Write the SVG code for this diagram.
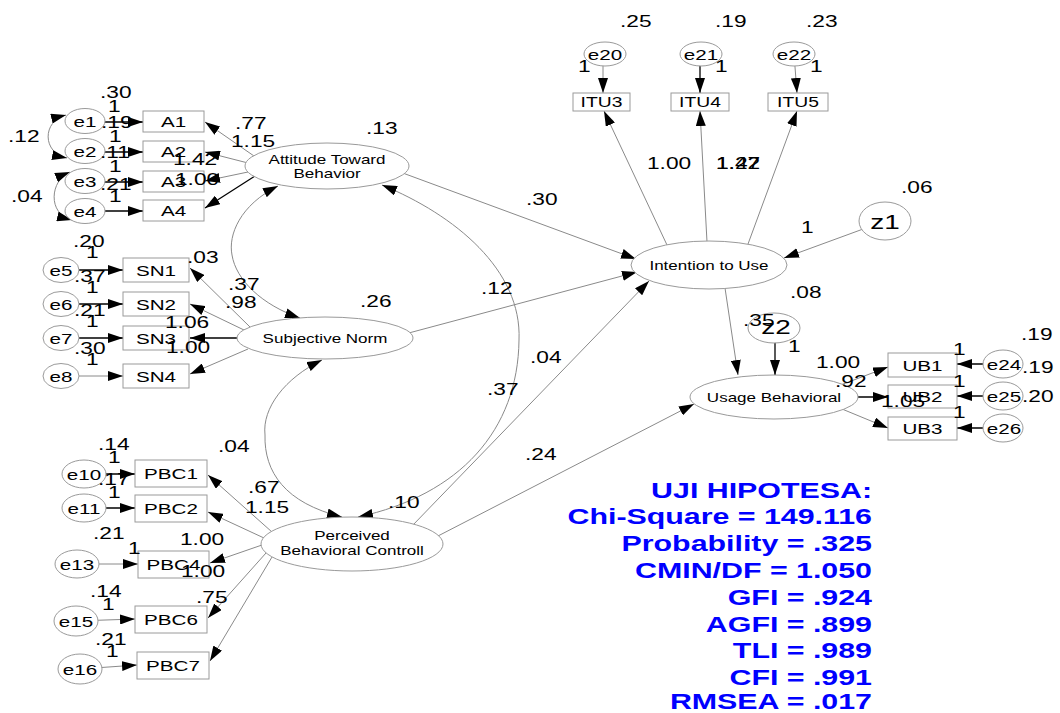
<svg xmlns="http://www.w3.org/2000/svg" width="1060" height="713" viewBox="0 0 1060 713">
<style>
.n{fill:#fff;stroke:#9a9a9a;stroke-width:1}
.g{fill:none;stroke:#8a8a8a;stroke-width:1;marker-end:url(#ah)}
.k{fill:none;stroke:#000;stroke-width:1.3;marker-end:url(#ah)}
.c{fill:none;stroke:#8a8a8a;stroke-width:1;marker-start:url(#ah);marker-end:url(#ah)}
text{font-family:"Liberation Sans",Arial,sans-serif;fill:#000}
.v{font-size:16px}
.o{font-size:15.5px;text-anchor:middle}
.i{font-size:14.5px;text-anchor:middle}
.l{font-size:12.8px;text-anchor:middle}
.z{font-size:21px;text-anchor:middle}
.u{font-size:22px;font-weight:bold;fill:#0000ff;text-anchor:end}
</style>
<defs>
<marker id="ah" viewBox="0 0 15 10" refX="15" refY="5" markerWidth="15" markerHeight="10" markerUnits="userSpaceOnUse" orient="auto-start-reverse"><path d="M0,0L15,5L0,10z" fill="#000"/></marker>
</defs>
<g id="connectors">
<path class="k" d="M85,122L143,122"/>
<path class="k" d="M85,152L143,152"/>
<path class="k" d="M85,182L143,182"/>
<path class="k" d="M85,211L143,211"/>
<path class="c" d="M66,115C42,121 42,153 67,158"/>
<path class="c" d="M70,172C50,180 47,214 72,220"/>
<path class="g" d="M254,156L205,122"/>
<path class="g" d="M248,163L205,152"/>
<path class="g" d="M248,172L205,181"/>
<path class="k" d="M255,176L205,208"/>
<path class="k" d="M61,270L123,270"/>
<path class="k" d="M61,304L123,304"/>
<path class="k" d="M61,338L123,338"/>
<path class="g" d="M61,376L123,376"/>
<path class="g" d="M250,327L190,268"/>
<path class="g" d="M244,330L190,304"/>
<path class="k" d="M238,338L190,338"/>
<path class="g" d="M248,349L190,374"/>
<path class="k" d="M84,474L135,474"/>
<path class="k" d="M84,508L135,508"/>
<path class="g" d="M77,564L138,564"/>
<path class="g" d="M76,621L135,619"/>
<path class="g" d="M80,669L137,665"/>
<path class="g" d="M272,532L208,475"/>
<path class="g" d="M264,538L208,512"/>
<path class="g" d="M262,545L210,563"/>
<path class="g" d="M266,553L208,618"/>
<path class="g" d="M272,557L210,661"/>
<path class="g" d="M603,54L603,93"/>
<path class="k" d="M700,54L700,93"/>
<path class="g" d="M794,54L797,93"/>
<path class="g" d="M667,245L604,111"/>
<path class="g" d="M707,242L700,111"/>
<path class="g" d="M748,244L797,111"/>
<path class="g" d="M885,221L784,258"/>
<path class="g" d="M400,172L636,259"/>
<path class="g" d="M405,334L637,272"/>
<path class="g" d="M412,526L649,281"/>
<path class="g" d="M436,537L694,404"/>
<path class="g" d="M725,288L738,375"/>
<path class="k" d="M775,330L775,375"/>
<path class="g" d="M838,386L888,367"/>
<path class="k" d="M855,397L888,397"/>
<path class="g" d="M842,409L888,428"/>
<path class="k" d="M1003,364L957,364"/>
<path class="k" d="M1003,396L957,396"/>
<path class="k" d="M1003,428L957,428"/>
<path class="c" d="M278,186C240,205 228,235 232,255C236,280 262,305 300,318"/>
<path class="c" d="M382,185C455,215 522,270 519,340C518,430 460,495 358,517"/>
<path class="c" d="M322,360C285,378 262,408 265,435C264,472 285,503 342,517"/>
</g>
<g id="e1"><ellipse class="n" cx="85" cy="121" rx="20" ry="12.5"/><text class="o" transform="translate(85,127) scale(1.33,1)">e1</text></g>
<g id="e2"><ellipse class="n" cx="85" cy="151" rx="20" ry="12.5"/><text class="o" transform="translate(85,157) scale(1.33,1)">e2</text></g>
<g id="e3"><ellipse class="n" cx="85" cy="181" rx="20" ry="12.5"/><text class="o" transform="translate(85,187) scale(1.33,1)">e3</text></g>
<g id="e4"><ellipse class="n" cx="85" cy="211" rx="20" ry="12.5"/><text class="o" transform="translate(85,217) scale(1.33,1)">e4</text></g>
<g id="A1"><rect class="n" x="143" y="111" width="61" height="21"/><text class="o" transform="translate(173.5,127) scale(1.33,1)">A1</text></g>
<g id="A2"><rect class="n" x="143" y="141" width="61" height="21"/><text class="o" transform="translate(173.5,157) scale(1.33,1)">A2</text></g>
<g id="A3"><rect class="n" x="143" y="171" width="61" height="21"/><text class="o" transform="translate(173.5,187) scale(1.33,1)">A3</text></g>
<g id="A4"><rect class="n" x="143" y="200" width="61" height="21"/><text class="o" transform="translate(173.5,216) scale(1.33,1)">A4</text></g>
<g id="e5"><ellipse class="n" cx="61" cy="270" rx="18" ry="12.5"/><text class="o" transform="translate(61,275.5) scale(1.33,1)">e5</text></g>
<g id="e6"><ellipse class="n" cx="61" cy="304" rx="18" ry="12.5"/><text class="o" transform="translate(61,309.5) scale(1.33,1)">e6</text></g>
<g id="e7"><ellipse class="n" cx="61" cy="338" rx="18" ry="12.5"/><text class="o" transform="translate(61,343.5) scale(1.33,1)">e7</text></g>
<g id="e8"><ellipse class="n" cx="61" cy="376" rx="18" ry="12.5"/><text class="o" transform="translate(61,381.5) scale(1.33,1)">e8</text></g>
<g id="SN1"><rect class="n" x="123" y="258" width="66" height="24"/><text class="o" transform="translate(156,275.5) scale(1.33,1)">SN1</text></g>
<g id="SN2"><rect class="n" x="123" y="292" width="66" height="24"/><text class="o" transform="translate(156,309.5) scale(1.33,1)">SN2</text></g>
<g id="SN3"><rect class="n" x="123" y="326" width="66" height="24"/><text class="o" transform="translate(156,343.5) scale(1.33,1)">SN3</text></g>
<g id="SN4"><rect class="n" x="123" y="364" width="66" height="24"/><text class="o" transform="translate(156,381.5) scale(1.33,1)">SN4</text></g>
<g id="e10"><ellipse class="n" cx="84" cy="474" rx="22" ry="14"/><text class="o" transform="translate(84,479.5) scale(1.33,1)">e10</text></g>
<g id="e11"><ellipse class="n" cx="84" cy="508" rx="22" ry="14"/><text class="o" transform="translate(84,513.5) scale(1.33,1)">e11</text></g>
<g id="e13"><ellipse class="n" cx="77" cy="564" rx="22" ry="14"/><text class="o" transform="translate(77,569.5) scale(1.33,1)">e13</text></g>
<g id="e15"><ellipse class="n" cx="76" cy="621" rx="22" ry="15"/><text class="o" transform="translate(76,626.5) scale(1.33,1)">e15</text></g>
<g id="e16"><ellipse class="n" cx="80" cy="669" rx="22" ry="15"/><text class="o" transform="translate(80,674.5) scale(1.33,1)">e16</text></g>
<g id="PBC1"><rect class="n" x="135" y="460" width="72" height="27"/><text class="o" transform="translate(171,479) scale(1.33,1)">PBC1</text></g>
<g id="PBC2"><rect class="n" x="135" y="495" width="72" height="27"/><text class="o" transform="translate(171,514) scale(1.33,1)">PBC2</text></g>
<g id="PBC4"><rect class="n" x="138" y="551" width="71" height="27"/><text class="o" transform="translate(173.5,570) scale(1.33,1)">PBC4</text></g>
<g id="PBC6"><rect class="n" x="135" y="606" width="72" height="27"/><text class="o" transform="translate(171,625) scale(1.33,1)">PBC6</text></g>
<g id="PBC7"><rect class="n" x="137" y="652" width="72" height="27"/><text class="o" transform="translate(173,671) scale(1.33,1)">PBC7</text></g>
<g id="e20"><ellipse class="n" cx="605" cy="54" rx="21" ry="12"/><text class="o" transform="translate(605,60) scale(1.33,1)">e20</text></g>
<g id="e21"><ellipse class="n" cx="701" cy="54" rx="21" ry="12"/><text class="o" transform="translate(701,60) scale(1.33,1)">e21</text></g>
<g id="e22"><ellipse class="n" cx="794" cy="54" rx="21" ry="12"/><text class="o" transform="translate(794,60) scale(1.33,1)">e22</text></g>
<g id="ITU3"><rect class="n" x="573" y="93" width="57" height="18"/><text class="i" transform="translate(601.5,107) scale(1.33,1)">ITU3</text></g>
<g id="ITU4"><rect class="n" x="671" y="93" width="58" height="18"/><text class="i" transform="translate(700,107) scale(1.33,1)">ITU4</text></g>
<g id="ITU5"><rect class="n" x="768" y="93" width="60" height="18"/><text class="i" transform="translate(798,107) scale(1.33,1)">ITU5</text></g>
<g id="z1"><ellipse class="n" cx="885" cy="221" rx="26" ry="19"/><text class="z" transform="translate(885,229) scale(1.33,1)">z1</text></g>
<g id="z2"><ellipse class="n" cx="774" cy="328" rx="26" ry="15"/><text class="z" transform="translate(776,334) scale(1.33,1)">z2</text></g>
<g id="UB1"><rect class="n" x="888" y="353" width="69" height="24"/><text class="o" transform="translate(922.5,370.5) scale(1.33,1)">UB1</text></g>
<g id="UB2"><rect class="n" x="888" y="385" width="69" height="23"/><text class="o" transform="translate(922.5,402) scale(1.33,1)">UB2</text></g>
<g id="UB3"><rect class="n" x="888" y="417" width="69" height="23"/><text class="o" transform="translate(922.5,434) scale(1.33,1)">UB3</text></g>
<g id="e24"><ellipse class="n" cx="1003" cy="364" rx="20" ry="14"/><text class="o" transform="translate(1004,369.5) scale(1.33,1)">e24</text></g>
<g id="e25"><ellipse class="n" cx="1003" cy="396" rx="20" ry="14"/><text class="o" transform="translate(1004,401.5) scale(1.33,1)">e25</text></g>
<g id="e26"><ellipse class="n" cx="1003" cy="428" rx="20" ry="14"/><text class="o" transform="translate(1004,433.5) scale(1.33,1)">e26</text></g>
<g id="ATB"><ellipse class="n" cx="327" cy="166" rx="82" ry="23"/><text class="l" transform="translate(327,164) scale(1.33,1)">Attitude Toward</text><text class="l" transform="translate(327,178) scale(1.33,1)">Behavior</text></g>
<g id="SN"><ellipse class="n" cx="325" cy="338" rx="88" ry="21"/><text class="l" transform="translate(325,343) scale(1.33,1)">Subjective Norm</text></g>
<g id="PBC"><ellipse class="n" cx="352" cy="544" rx="91" ry="27"/><text class="l" transform="translate(352,540) scale(1.33,1)">Perceived</text><text class="l" transform="translate(352,555) scale(1.33,1)">Behavioral Controll</text></g>
<g id="ITU"><ellipse class="n" cx="709" cy="265" rx="78" ry="24"/><text class="l" transform="translate(709,270) scale(1.33,1)">Intention to Use</text></g>
<g id="UB"><ellipse class="n" cx="774" cy="397" rx="84" ry="22"/><text class="l" transform="translate(774,402) scale(1.33,1)">Usage Behavioral</text></g>
<g id="labels">
<text class="v" transform="translate(100,98) scale(1.42,1)">.30</text>
<text class="v" transform="translate(108,112) scale(1.42,1)">1</text>
<text class="v" transform="translate(101,128) scale(1.42,1)">.19</text>
<text class="v" transform="translate(109,142) scale(1.42,1)">1</text>
<text class="v" transform="translate(8,142) scale(1.42,1)">.12</text>
<text class="v" transform="translate(100,158) scale(1.42,1)">.11</text>
<text class="v" transform="translate(109,172) scale(1.42,1)">1</text>
<text class="v" transform="translate(100,190) scale(1.42,1)">.21</text>
<text class="v" transform="translate(11,202) scale(1.42,1)">.04</text>
<text class="v" transform="translate(109,202) scale(1.42,1)">1</text>
<text class="v" transform="translate(235,129) scale(1.42,1)">.77</text>
<text class="v" transform="translate(231,147) scale(1.42,1)">1.15</text>
<text class="v" transform="translate(173,165) scale(1.42,1)">1.42</text>
<text class="v" transform="translate(175,185) scale(1.42,1)">1.00</text>
<text class="v" transform="translate(366,134) scale(1.42,1)">.13</text>
<text class="v" transform="translate(73,247) scale(1.42,1)">.20</text>
<text class="v" transform="translate(86,258) scale(1.42,1)">1</text>
<text class="v" transform="translate(74,282) scale(1.42,1)">.37</text>
<text class="v" transform="translate(86,293) scale(1.42,1)">1</text>
<text class="v" transform="translate(74,316) scale(1.42,1)">.21</text>
<text class="v" transform="translate(86,327) scale(1.42,1)">1</text>
<text class="v" transform="translate(74,354) scale(1.42,1)">.30</text>
<text class="v" transform="translate(86,365) scale(1.42,1)">1</text>
<text class="v" transform="translate(187,263) scale(1.42,1)">.03</text>
<text class="v" transform="translate(228,290) scale(1.42,1)">.37</text>
<text class="v" transform="translate(225,308) scale(1.42,1)">.98</text>
<text class="v" transform="translate(165,328) scale(1.42,1)">1.06</text>
<text class="v" transform="translate(166,353) scale(1.42,1)">1.00</text>
<text class="v" transform="translate(360,307) scale(1.42,1)">.26</text>
<text class="v" transform="translate(98,450) scale(1.42,1)">.14</text>
<text class="v" transform="translate(108,463) scale(1.42,1)">1</text>
<text class="v" transform="translate(98,485) scale(1.42,1)">.17</text>
<text class="v" transform="translate(108,498) scale(1.42,1)">1</text>
<text class="v" transform="translate(93,539) scale(1.42,1)">.21</text>
<text class="v" transform="translate(218,452) scale(1.42,1)">.04</text>
<text class="v" transform="translate(248,493) scale(1.42,1)">.67</text>
<text class="v" transform="translate(245,513) scale(1.42,1)">1.15</text>
<text class="v" transform="translate(388,508) scale(1.42,1)">.10</text>
<text class="v" transform="translate(180,545) scale(1.42,1)">1.00</text>
<text class="v" transform="translate(128,554) scale(1.42,1)">1</text>
<text class="v" transform="translate(181,577) scale(1.42,1)">1.00</text>
<text class="v" transform="translate(90,597) scale(1.42,1)">.14</text>
<text class="v" transform="translate(102,610) scale(1.42,1)">1</text>
<text class="v" transform="translate(196,603) scale(1.42,1)">.75</text>
<text class="v" transform="translate(95,645) scale(1.42,1)">.21</text>
<text class="v" transform="translate(106,657) scale(1.42,1)">1</text>
<text class="v" transform="translate(620,27) scale(1.42,1)">.25</text>
<text class="v" transform="translate(715,27) scale(1.42,1)">.19</text>
<text class="v" transform="translate(806,27) scale(1.42,1)">.23</text>
<text class="v" transform="translate(578,72) scale(1.42,1)">1</text>
<text class="v" transform="translate(715,72) scale(1.42,1)">1</text>
<text class="v" transform="translate(810,72) scale(1.42,1)">1</text>
<text class="v" transform="translate(647,169) scale(1.42,1)">1.00</text>
<text class="v" transform="translate(716,169) scale(1.42,1)">1.47</text>
<text class="v" transform="translate(716,169) scale(1.42,1)">1.22</text>
<text class="v" transform="translate(901,193) scale(1.42,1)">.06</text>
<text class="v" transform="translate(801,233) scale(1.42,1)">1</text>
<text class="v" transform="translate(526,205) scale(1.42,1)">.30</text>
<text class="v" transform="translate(481,294) scale(1.42,1)">.12</text>
<text class="v" transform="translate(487,395) scale(1.42,1)">.37</text>
<text class="v" transform="translate(530,363) scale(1.42,1)">.04</text>
<text class="v" transform="translate(525,460) scale(1.42,1)">.24</text>
<text class="v" transform="translate(790,298) scale(1.42,1)">.08</text>
<text class="v" transform="translate(743,326) scale(1.42,1)">.35</text>
<text class="v" transform="translate(788,352) scale(1.42,1)">1</text>
<text class="v" transform="translate(816,368) scale(1.42,1)">1.00</text>
<text class="v" transform="translate(835,387) scale(1.42,1)">.92</text>
<text class="v" transform="translate(881,407) scale(1.42,1)">1.05</text>
<text class="v" transform="translate(953,355) scale(1.42,1)">1</text>
<text class="v" transform="translate(953,387) scale(1.42,1)">1</text>
<text class="v" transform="translate(953,418) scale(1.42,1)">1</text>
<text class="v" transform="translate(1021,340) scale(1.42,1)">.19</text>
<text class="v" transform="translate(1022,373) scale(1.42,1)">.19</text>
<text class="v" transform="translate(1022,402) scale(1.42,1)">.20</text>
</g>
<g id="fit">
<text class="u" transform="translate(872,498) scale(1.38,1)">UJI HIPOTESA:</text>
<text class="u" transform="translate(872,524) scale(1.38,1)">Chi-Square = 149.116</text>
<text class="u" transform="translate(872,551) scale(1.38,1)">Probability = .325</text>
<text class="u" transform="translate(872,578) scale(1.38,1)">CMIN/DF = 1.050</text>
<text class="u" transform="translate(872,605) scale(1.38,1)">GFI = .924</text>
<text class="u" transform="translate(872,632) scale(1.38,1)">AGFI = .899</text>
<text class="u" transform="translate(872,658) scale(1.38,1)">TLI = .989</text>
<text class="u" transform="translate(872,685) scale(1.38,1)">CFI = .991</text>
<text class="u" transform="translate(872,709) scale(1.38,1)">RMSEA = .017</text>
</g>
</svg>
